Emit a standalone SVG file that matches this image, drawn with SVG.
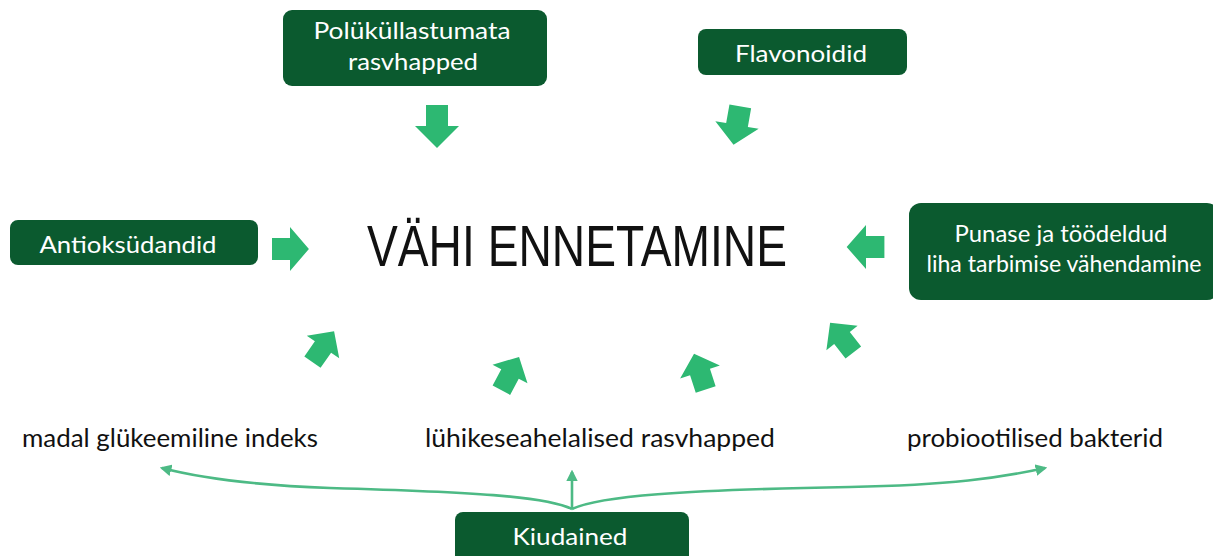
<svg xmlns="http://www.w3.org/2000/svg" width="1213" height="556" viewBox="0 0 1213 556">
  <defs>
    <style>
      .box { fill: #0b5a2f; }
      .bt { fill: #ffffff; font-family: Lato, "Liberation Sans", sans-serif; font-size: 24px; }
      .lbl { fill: #111111; font-family: Lato, "Liberation Sans", sans-serif; font-size: 25px; }
      .title { fill: #111111; font-family: "Liberation Sans", Arial, sans-serif; font-size: 58px; }
      .blk { fill: #2db872; }
      .con { fill: none; stroke: #4dba85; stroke-width: 2.6; }
    </style>
    <path id="barrow" d="M-20,-11 H0 V-22 L21,0 L0,22 V11 H-20 Z"/>
    <marker id="ah" viewBox="0 0 10 10" refX="8" refY="5" markerWidth="4.5" markerHeight="4.5" orient="auto" markerUnits="strokeWidth">
      <path d="M0,0 L10,5 L0,10 Z" fill="#4dba85"/>
    </marker>
  </defs>
  <rect width="1213" height="556" fill="#ffffff"/>

  <g id="title">
    <text class="title" x="367" y="266" textLength="420" lengthAdjust="spacingAndGlyphs">VÄHI ENNETAMINE</text>
  </g>

  <g id="node-polykyllastumata">
    <rect class="box" x="283" y="10" width="264" height="76" rx="9"/>
    <text class="bt" x="412" y="39" text-anchor="middle" textLength="197" lengthAdjust="spacingAndGlyphs">Polüküllastumata</text>
    <text class="bt" x="413" y="70" text-anchor="middle" textLength="130" lengthAdjust="spacingAndGlyphs">rasvhapped</text>
  </g>

  <g id="node-flavonoidid">
    <rect class="box" x="698" y="29" width="209" height="46" rx="8"/>
    <text class="bt" x="801" y="62" text-anchor="middle" textLength="132" lengthAdjust="spacingAndGlyphs">Flavonoidid</text>
  </g>

  <g id="node-antioksudandid">
    <rect class="box" x="10" y="220" width="248" height="45" rx="8"/>
    <text class="bt" x="128" y="253" text-anchor="middle" textLength="177" lengthAdjust="spacingAndGlyphs">Antioksüdandid</text>
  </g>

  <g id="node-punase">
    <rect class="box" x="909" y="203" width="310" height="97" rx="12"/>
    <text class="bt" x="1061" y="242" text-anchor="middle" textLength="213" lengthAdjust="spacingAndGlyphs">Punase ja töödeldud</text>
    <text class="bt" x="1064" y="272" text-anchor="middle" textLength="275" lengthAdjust="spacingAndGlyphs">liha tarbimise vähendamine</text>
  </g>

  <g id="node-kiudained">
    <rect class="box" x="455" y="512" width="234" height="60" rx="8"/>
    <text class="bt" x="570" y="545" text-anchor="middle" textLength="115" lengthAdjust="spacingAndGlyphs">Kiudained</text>
  </g>

  <g id="node-madal">
    <text class="lbl" x="22" y="447" textLength="296" lengthAdjust="spacingAndGlyphs">madal glükeemiline indeks</text>
  </g>
  <g id="node-luhikese">
    <text class="lbl" x="425" y="447" textLength="350" lengthAdjust="spacingAndGlyphs">lühikeseahelalised rasvhapped</text>
  </g>
  <g id="node-probiootilised">
    <text class="lbl" x="907" y="447" textLength="256" lengthAdjust="spacingAndGlyphs">probiootilised bakterid</text>
  </g>

  <g id="connectors">
    <g class="blk">
      <use href="#barrow" transform="translate(437,126) rotate(90) scale(1.05,1)"/>
      <use href="#barrow" transform="translate(737,125) rotate(100) scale(0.95,1)"/>
      <use href="#barrow" transform="translate(290,249) rotate(0) scale(0.9,1)"/>
      <use href="#barrow" transform="translate(866,247) rotate(180) scale(0.92,1)"/>
      <use href="#barrow" transform="translate(323,347) rotate(-55) scale(0.92,0.9)"/>
      <use href="#barrow" transform="translate(510,374) rotate(-62) scale(0.92,0.9)"/>
      <use href="#barrow" transform="translate(700,372) rotate(-108) scale(0.92,0.95)"/>
      <use href="#barrow" transform="translate(842,338) rotate(-128) scale(0.92,0.9)"/>
    </g>
    <path class="con" d="M572,509 C545,496 470,492 330,488 C250,485 200,478 162,468" marker-end="url(#ah)"/>
    <path class="con" d="M572,509 L572,472" marker-end="url(#ah)"/>
    <path class="con" d="M572,509 C600,496 680,490 850,487 C950,485 1000,478 1045,468" marker-end="url(#ah)"/>
  </g>
</svg>
